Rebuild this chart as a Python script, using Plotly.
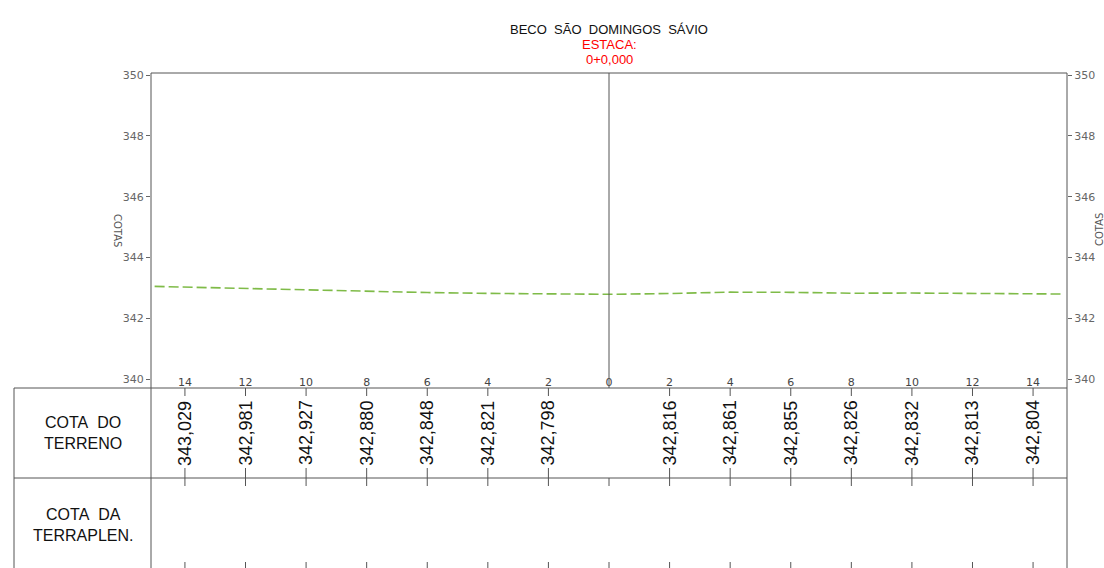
import plotly.graph_objects as go

# ---------------- data ----------------
stations = [-15, -14, -12, -10, -8, -6, -4, -2, 0, 2, 4, 6, 8, 10, 12, 14, 15]
terrain = [343.05, 343.029, 342.981, 342.927, 342.880, 342.848, 342.821, 342.798,
           342.79, 342.816, 342.861, 342.855, 342.826, 342.832, 342.813, 342.804, 342.80]

tick_stations = [-14, -12, -10, -8, -6, -4, -2, 0, 2, 4, 6, 8, 10, 12, 14]
tick_text = ["14", "12", "10", "8", "6", "4", "2", "0", "2", "4", "6", "8", "10", "12", "14"]

value_stations = [-14, -12, -10, -8, -6, -4, -2, 2, 4, 6, 8, 10, 12, 14]
value_labels = ["343,029", "342,981", "342,927", "342,880", "342,848", "342,821", "342,798",
                "342,816", "342,861", "342,855", "342,826", "342,832", "342,813", "342,804"]

y_ticks = [340, 342, 344, 346, 348, 350]

title_text = "BECO\u00a0\u00a0SÃO\u00a0\u00a0DOMINGOS\u00a0\u00a0SÁVIO"
estaca_text = "ESTACA:"
estaca_value = "0+0,000"
row1_label = "COTA\u00a0\u00a0DO<br>TERRENO"
row2_label = "COTA\u00a0\u00a0DA<br>TERRAPLEN."
axis_label = "COTAS"

# ---------------- geometry (pixels) ----------------
W, H = 1104, 568
L, R, T, B = 151, 1067, 73, 568   # plot area spans the whole drawing height
TABLE_TOP = 388
PX_PER_UNIT = 30.4
Y_TOP = 350.07
Y_BOTTOM = Y_TOP - (B - T) / PX_PER_UNIT


def px(xp):
    return (xp - L) / (R - L)


def py(yp):
    return (B - yp) / (B - T)


LINE = dict(color="#555555", width=1)
FONT = "Liberation Sans, Arial, sans-serif"
SMALL = "DejaVu Sans, sans-serif"

fig = go.Figure()
fig.add_trace(go.Scatter(
    x=stations, y=terrain, mode="lines",
    line=dict(color="#7fbb48", width=1.6, dash="10px,4px"),
    hoverinfo="skip", showlegend=False))
fig.add_trace(go.Scatter(x=[None], y=[None], yaxis="y2", showlegend=False, hoverinfo="skip"))

shapes = []
# frame
shapes.append(dict(type="line", xref="paper", yref="paper", x0=0, x1=1, y0=1, y1=1, line=LINE))
shapes.append(dict(type="line", xref="paper", yref="paper", x0=0, x1=0, y0=1, y1=py(H + 2), line=LINE))
shapes.append(dict(type="line", xref="paper", yref="paper", x0=1, x1=1, y0=1, y1=py(H + 2), line=LINE))
# table horizontal lines
shapes.append(dict(type="line", xref="paper", yref="paper", x0=px(14), x1=1,
                   y0=py(TABLE_TOP), y1=py(TABLE_TOP), line=LINE))
shapes.append(dict(type="line", xref="paper", yref="paper", x0=px(14), x1=1,
                   y0=py(478), y1=py(478), line=LINE))
shapes.append(dict(type="line", xref="paper", yref="paper", x0=px(14), x1=px(14),
                   y0=py(TABLE_TOP), y1=py(H + 2), line=LINE))
# centre line
shapes.append(dict(type="line", xref="x", yref="paper", x0=0, x1=0, y0=1, y1=py(TABLE_TOP), line=LINE))
# station ticks in table
for s in tick_stations:
    shapes.append(dict(type="line", xref="x", yref="paper", x0=s, x1=s, y0=py(478), y1=py(486), line=LINE))
    shapes.append(dict(type="line", xref="x", yref="paper", x0=s, x1=s, y0=py(562), y1=py(H + 2), line=LINE))
for s in value_stations:
    shapes.append(dict(type="line", xref="x", yref="paper", x0=s, x1=s, y0=py(TABLE_TOP), y1=py(396), line=LINE))
    shapes.append(dict(type="line", xref="x", yref="paper", x0=s, x1=s, y0=py(468), y1=py(478), line=LINE))

annotations = []
for s, v in zip(value_stations, value_labels):
    annotations.append(dict(x=s, xref="x", y=py(433), yref="paper", text=v, textangle=-90,
                            showarrow=False, font=dict(family=FONT, size=18, color="#111111"),
                            xanchor="center", yanchor="middle"))
annotations.append(dict(x=px(82.5), xref="paper", y=py(433), yref="paper", text=row1_label,
                        showarrow=False, font=dict(family=FONT, size=16, color="#111111"),
                        xanchor="center", yanchor="middle"))
annotations.append(dict(x=px(82.5), xref="paper", y=py(525), yref="paper", text=row2_label,
                        showarrow=False, font=dict(family=FONT, size=16, color="#111111"),
                        xanchor="center", yanchor="middle"))
annotations.append(dict(x=0, xref="x", y=py(29), yref="paper", text=title_text,
                        showarrow=False, font=dict(family=FONT, size=13, color="#111111"),
                        xanchor="center", yanchor="middle"))
annotations.append(dict(x=0, xref="x", y=py(44), yref="paper", text=estaca_text,
                        showarrow=False, font=dict(family=FONT, size=13, color="#ff0000"),
                        xanchor="center", yanchor="middle"))
annotations.append(dict(x=0, xref="x", y=py(59), yref="paper", text=estaca_value,
                        showarrow=False, font=dict(family=FONT, size=13, color="#ff0000"),
                        xanchor="center", yanchor="middle"))
annotations.append(dict(x=px(118), xref="paper", y=py(230), yref="paper", text=axis_label,
                        textangle=90, showarrow=False, font=dict(family=SMALL, size=10, color="#555555"),
                        xanchor="center", yanchor="middle"))
annotations.append(dict(x=px(1099), xref="paper", y=py(230), yref="paper", text=axis_label,
                        textangle=-90, showarrow=False, font=dict(family=SMALL, size=10, color="#555555"),
                        xanchor="center", yanchor="middle"))

yrange = [Y_BOTTOM, Y_TOP]
fig.update_layout(
    width=W, height=H, autosize=False,
    margin=dict(l=L, r=W - R, t=T, b=H - B, pad=0),
    paper_bgcolor="white", plot_bgcolor="white",
    showlegend=False,
    xaxis=dict(range=[-15.12, 15.12], tickvals=tick_stations, ticktext=tick_text,
               side="top", anchor="free", position=py(TABLE_TOP),
               ticks="", showgrid=False, zeroline=False,
               showline=False, tickfont=dict(family=SMALL, size=11, color="#444444"),
               fixedrange=True),
    yaxis=dict(range=yrange, tickvals=y_ticks, ticks="outside", ticklen=4, tickcolor="#666666",
               showgrid=False, zeroline=False, showline=False,
               tickfont=dict(family=SMALL, size=11, color="#666666"), fixedrange=True),
    yaxis2=dict(range=yrange, tickvals=y_ticks, ticks="outside", ticklen=4, tickcolor="#666666",
                overlaying="y", side="right", showgrid=False, zeroline=False, showline=False,
                tickfont=dict(family=SMALL, size=11, color="#666666"), fixedrange=True),
    shapes=shapes,
    annotations=annotations,
)

fig.write_html("out.html", config={"displayModeBar": False},
               post_script="document.body.style.margin='0px';")
